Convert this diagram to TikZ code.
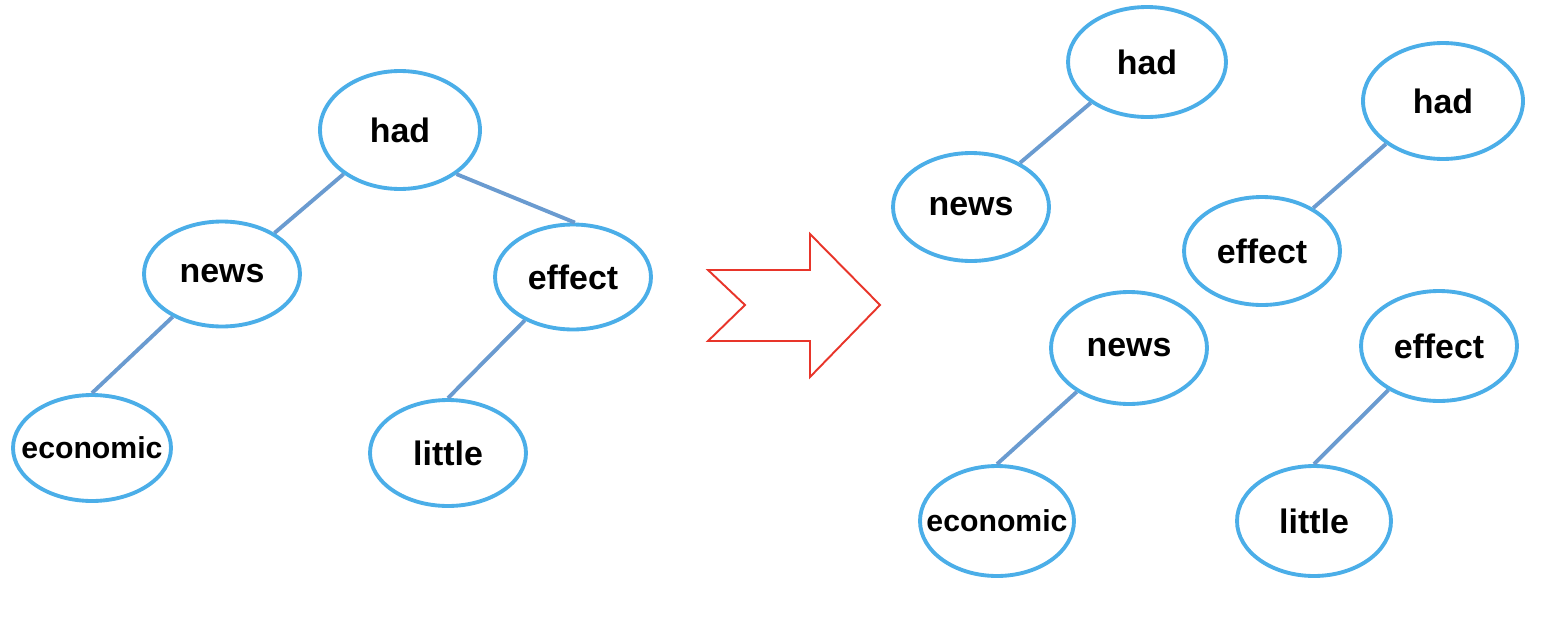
\documentclass[tikz,border=0pt]{standalone}
\usepackage{fontspec}
\setmainfont{Liberation Sans}
\usetikzlibrary{shapes.geometric}
\definecolor{ellblue}{HTML}{4BAEE8}
\definecolor{linkblue}{HTML}{6A9BD0}
\definecolor{arrred}{HTML}{E8352A}
\begin{document}
\begin{tikzpicture}[x=0.02cm,y=-0.02cm,
  word/.style={ellipse,draw=ellblue,line width=2.2pt,fill=white,inner sep=0pt,
    minimum width=3.12cm,minimum height=2.1cm,font=\fontsize{19.3}{21}\selectfont\bfseries},
  small/.style={font=\fontsize{17.2}{19}\selectfont\bfseries,inner xsep=-15pt},
  link/.style={draw=linkblue,line width=2.2pt}]
\useasboundingbox (0,0) rectangle (1552,636);
% left tree
\node[word,minimum height=2.36cm,minimum width=3.2cm] (had) at (400,130) {had};
\node[word] (news) at (222,274) {news};
\node[word] (effect) at (573,277) {effect};
\node[word,small,minimum width=3.16cm,minimum height=2.12cm] (economic) at (92,448) {economic};
\node[word,minimum height=2.12cm] (little) at (448,453) {little};
\draw[link] (had.218) -- (news.38);
\draw[link] (had.-38) -- (effect.88);
\draw[link] (news.221) -- (economic.90);
\draw[link] (effect.222) -- (little.90);
% arrow
\draw[arrred,line width=1.1pt,line join=miter] (708,270) -- (810,270) -- (810,234) -- (880,305) -- (810,377) -- (810,341) -- (708,341) -- (745,305) -- cycle;
% right trees
\node[word,minimum width=3.16cm,minimum height=2.2cm] (had1) at (1147,62) {had};
\node[word,minimum height=2.16cm] (news1) at (971,207) {news};
\draw[link] (had1.216) -- (news1.42);
\node[word,minimum width=3.2cm,minimum height=2.32cm] (had2) at (1443,101) {had};
\node[word,minimum height=2.16cm] (effect1) at (1262,251) {effect};
\draw[link] (had2.217) -- (effect1.40);
\node[word,minimum height=2.24cm] (news2) at (1129,348) {news};
\node[word,small,minimum width=3.08cm,minimum height=2.2cm] (economic2) at (997,521) {economic};
\draw[link] (news2.220) -- (economic2.90);
\node[word,minimum height=2.2cm] (effect2) at (1439,346) {effect};
\node[word,minimum width=3.08cm,minimum height=2.2cm] (little2) at (1314,521) {little};
\draw[link] (effect2.221) -- (little2.90);
\end{tikzpicture}
\end{document}
